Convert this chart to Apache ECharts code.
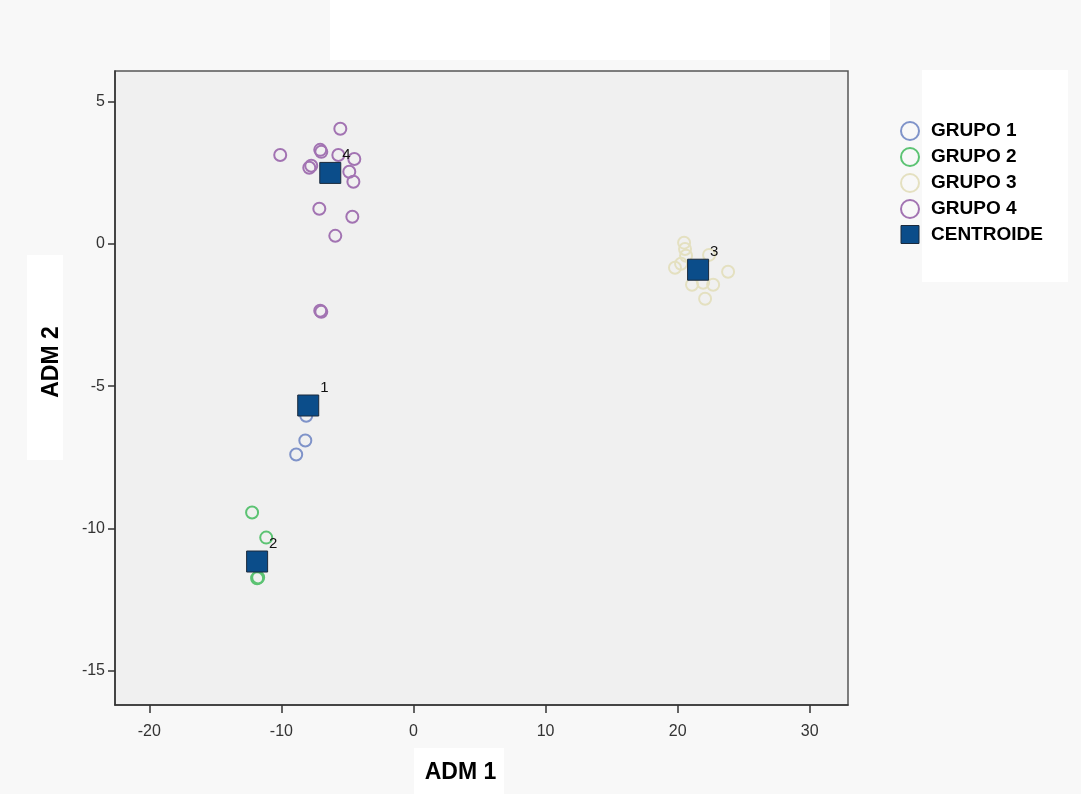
<!DOCTYPE html>
<html>
<head>
<meta charset="utf-8">
<script src="https://cdn.jsdelivr.net/npm/echarts@6/dist/echarts.min.js"></script>
<style>
html,body{margin:0;padding:0;background:#f8f8f8;}
#chart{width:1081px;height:794px;}
</style>
</head>
<body>
<div id="chart"></div>
<script>
// ---- data ----
const seriesNames = ['GRUPO 1', 'GRUPO 2', 'GRUPO 3', 'GRUPO 4', 'CENTROIDE'];
const g1x = [-8.12, -8.19, -8.88];
const g1y = [-6.04, -6.91, -7.40];
const g2x = [-12.22, -11.15, -11.84, -11.76];
const g2y = [-9.44, -10.32, -11.75, -11.72];
const g3x = [20.49, 20.56, 20.64, 19.80, 20.26, 21.09, 21.93, 22.69, 22.08, 23.82, 22.38];
const g3y = [0.04, -0.18, -0.42, -0.84, -0.70, -1.44, -1.37, -1.44, -1.93, -0.98, -0.39];
const g4x = [-5.54, -10.09, -7.06, -6.98, -5.69, -4.48, -7.89, -7.74, -4.86, -4.55, -7.13, -4.63, -5.92, -6.98, -7.06];
const g4y = [4.04, 3.12, 3.30, 3.23, 3.12, 2.98, 2.67, 2.74, 2.53, 2.18, 1.23, 0.95, 0.28, -2.39, -2.35];
const centroidX = [-7.97, -11.84, 21.55, -6.30];
const centroidY = [-5.68, -11.16, -0.91, 2.49];
const centroidLabels = ['1', '2', '3', '4'];
const xTicks = [-20, -10, 0, 10, 20, 30];
const yTicks = [5, 0, -5, -10, -15];
const xTitle = 'ADM 1';
const yTitle = 'ADM 2';

const colors = ['#7f93c9', '#5cc373', '#e4e0c0', '#a273b2', '#0b4d8a'];
const pair = (xs, ys) => xs.map((x, i) => [x, ys[i]]);
const groups = [pair(g1x, g1y), pair(g2x, g2y), pair(g3x, g3y), pair(g4x, g4y)];
const centroids = centroidX.map((x, i) => ({ value: [x, centroidY[i]], name: centroidLabels[i] }));

const chart = echarts.init(document.getElementById('chart'), null, { renderer: 'canvas' });
const FONT = '"Liberation Sans", Arial, sans-serif';

const series = groups.map((d, i) => ({
  name: seriesNames[i],
  type: 'scatter',
  data: d,
  symbol: 'circle',
  symbolSize: 12,
  itemStyle: { color: 'rgba(0,0,0,0)', borderColor: colors[i], borderWidth: 2, opacity: 1 },
  emphasis: { disabled: true },
  z: 3
}));
series.push({
  name: seriesNames[4],
  type: 'scatter',
  data: centroids,
  symbol: 'rect',
  symbolSize: 21,
  itemStyle: { color: colors[4], borderColor: '#1b2a3c', borderWidth: 1, opacity: 1 },
  label: {
    show: true,
    formatter: p => p.name,
    position: 'right',
    distance: 1,
    offset: [0, -18],
    color: '#111',
    fontSize: 15,
    fontFamily: FONT
  },
  emphasis: { disabled: true },
  z: 4
});

chart.setOption({
  animation: false,
  backgroundColor: '#f8f8f8',
  graphic: [
    { type: 'rect', shape: { x: 330, y: 0, width: 500, height: 60 }, style: { fill: '#ffffff' }, z: -10 },
    { type: 'rect', shape: { x: 922, y: 70, width: 146, height: 212 }, style: { fill: '#ffffff' }, z: -10 },
    { type: 'rect', shape: { x: 27, y: 255, width: 36, height: 205 }, style: { fill: '#ffffff' }, z: -10 },
    { type: 'rect', shape: { x: 414, y: 748, width: 90, height: 46 }, style: { fill: '#ffffff' }, z: -10 }
  ],
  grid: {
    left: 115, top: 71, width: 733, height: 634,
    show: true, backgroundColor: '#f0f0f0', borderColor: '#555', borderWidth: 1.5
  },
  legend: {
    orient: 'vertical',
    left: 895, top: 116,
    itemWidth: 18, itemHeight: 18, itemGap: 6,
    textStyle: { fontFamily: FONT, fontWeight: 'bold', fontSize: 19, color: '#000', padding: [0, 0, 0, 7] },
    data: [
      { name: seriesNames[0], icon: 'circle', itemStyle: { color: 'rgba(0,0,0,0)', borderColor: colors[0], borderWidth: 2 } },
      { name: seriesNames[1], icon: 'circle', itemStyle: { color: 'rgba(0,0,0,0)', borderColor: colors[1], borderWidth: 2 } },
      { name: seriesNames[2], icon: 'circle', itemStyle: { color: 'rgba(0,0,0,0)', borderColor: colors[2], borderWidth: 2 } },
      { name: seriesNames[3], icon: 'circle', itemStyle: { color: 'rgba(0,0,0,0)', borderColor: colors[3], borderWidth: 2 } },
      { name: seriesNames[4], icon: 'rect', itemStyle: { color: colors[4], borderColor: '#1b2a3c', borderWidth: 1 } }
    ]
  },
  xAxis: {
    type: 'value', min: -22.6, max: 32.9,
    name: xTitle, nameLocation: 'middle', nameGap: 56,
    nameTextStyle: { fontFamily: FONT, fontWeight: 'bold', fontSize: 23, color: '#000', padding: [0, 42, 0, 0] },
    axisLine: { show: true, onZero: false, lineStyle: { color: '#333', width: 1.5 } },
    axisTick: { show: true, inside: false, length: 8, customValues: xTicks, lineStyle: { color: '#333', width: 1.5 } },
    axisLabel: { customValues: xTicks, margin: 19, fontFamily: FONT, fontSize: 16, color: '#333', showMinLabel: true, showMaxLabel: true },
    splitLine: { show: false }
  },
  yAxis: {
    type: 'value', min: -16.2, max: 6.07,
    name: yTitle, nameLocation: 'middle', nameGap: 52,
    nameTextStyle: { fontFamily: FONT, fontWeight: 'bold', fontSize: 23, color: '#000', padding: [0, 0, 0, 52] },
    axisLine: { show: true, onZero: false, lineStyle: { color: '#333', width: 1.5 } },
    axisTick: { show: true, inside: false, length: 7, customValues: yTicks, lineStyle: { color: '#333', width: 1.5 } },
    axisLabel: { customValues: yTicks, margin: 10, fontFamily: FONT, fontSize: 16, color: '#333' },
    splitLine: { show: false }
  },
  series: series
});
</script>
</body>
</html>
